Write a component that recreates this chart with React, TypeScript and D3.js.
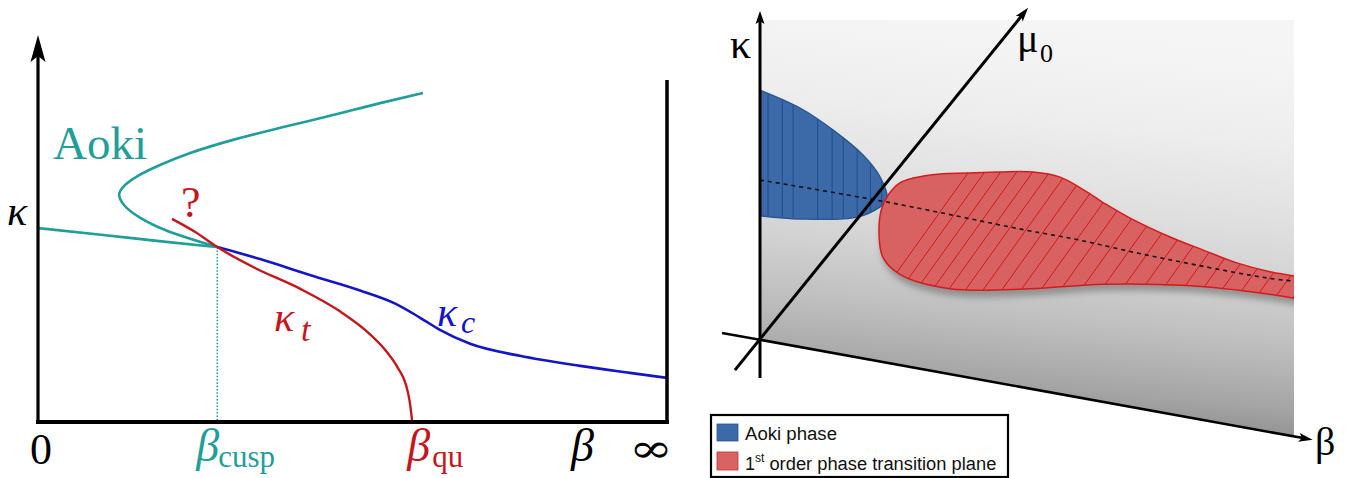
import React from 'react';
import * as d3 from 'd3';

const W = 1351;
const H = 478;

type P = [number, number];

// ---------- Left panel: schematic phase diagram in (beta, kappa) units ----------
const aokiUpper: P[] = [
  [6.12, 8.5], [5.44, 8.24], [4.69, 7.93], [3.9, 7.62], [3.1, 7.29], [2.42, 6.95],
  [1.94, 6.64], [1.59, 6.36], [1.37, 6.1], [1.29, 5.87], [1.37, 5.6], [1.62, 5.28],
  [2.05, 4.94], [2.85, 4.52],
];
const aokiLower: P[] = [[0, 5.01], [1.0, 4.84], [2.0, 4.66], [2.85, 4.52]];
const kappaT: P[] = [
  [2.13, 5.25], [2.5, 4.91], [2.85, 4.52], [3.45, 3.98], [4.17, 3.44], [4.8, 2.86],
  [5.2, 2.38], [5.52, 1.86], [5.72, 1.4], [5.85, 0.96], [5.91, 0.52], [5.95, 0],
];
const kappaC: P[] = [
  [2.85, 4.52], [3.53, 4.21], [4.32, 3.8], [5.12, 3.4], [5.68, 3.06], [6.07, 2.7],
  [6.39, 2.38], [6.87, 2.02], [7.66, 1.71], [8.62, 1.45], [9.41, 1.27], [10, 1.14],
];
const betaCusp = 2.85;
const kappaCusp = 4.52;
const betaQu = 5.95;
const rightWallTop = 8.84;

// ---------- Right panel: 3D sketch projected onto the (beta, kappa) plane ----------
const aokiPhase: P[] = [
  [0, 7.81], [0.75, 7.25], [1.37, 6.56], [1.93, 5.78], [2.25, 5.09], [2.38, 4.38],
  [2.25, 4.16], [1.82, 3.84], [0.75, 3.78], [0, 3.88],
];
const firstOrderPlane: P[] = [
  [2.4, 4.53], [2.62, 4.91], [2.87, 5.06], [3.37, 5.19], [3.88, 5.22], [4.49, 5.25],
  [5.11, 5.25], [5.62, 5.09], [6.12, 4.63], [6.5, 4.22], [6.93, 3.81], [7.68, 3.22],
  [8.3, 2.81], [8.93, 2.41], [9.55, 2.13], [10.0, 2.0], [10.4, 1.85], [10.6, 1.5],
  [10.4, 1.2], [10.0, 1.31], [9.23, 1.5], [8.0, 1.7], [6.42, 1.74], [5.06, 1.6],
  [3.56, 1.6], [2.62, 2.05], [2.3, 2.59], [2.23, 3.28], [2.27, 4.06],
];
const criticalLine: P[] = [
  [0, 5.0], [2.38, 4.31], [4.96, 3.44], [5.96, 3.13], [7.06, 2.72], [8.18, 2.34], [9.49, 1.94], [10, 1.84],
];
const aokiHatch = [0.15, 0.42, 0.62, 1.08, 1.35, 1.56, 1.82, 2.07, 2.28];
const planeHatch = [
  2.0, 2.3, 2.6, 2.9, 3.2, 3.52, 3.85, 4.2, 4.56, 4.93, 5.3, 5.68,
  6.06, 6.44, 6.82, 7.2, 7.58, 7.95, 8.32, 8.7, 9.06, 9.42, 9.76, 10.1,
];
const hatchDir: P = [2.1, 4.9];
const backPlane: P[] = [[0, 10], [10, 10], [10, -3.0], [0, 0]];
const kappaAxis: P[] = [[0, -1.19], [0, 10.28]];
const muAxis: P[] = [[-0.47, -0.94], [5.02, 10.38]];
const betaAxis: P[] = [[-0.71, 0.22], [10.35, -3.12]];
const legendItems = [
  { label: 'Aoki phase', fill: '#3c69a7', stroke: '#2a5590' },
  { label: ' order phase transition plane', fill: '#d96262', stroke: '#c43030' },
];

const teal = '#1f9e9a';
const red = '#c4161c';
const blue = '#1515c8';
const serif = "'Liberation Serif', 'DejaVu Serif', serif";
const sans = "'Liberation Sans', Arial, sans-serif";

const xL = d3.scaleLinear().domain([0, 10]).range([38, 667]);
const yL = d3.scaleLinear().domain([0, 10]).range([422, 35]);
const xR = d3.scaleLinear().domain([0, 10]).range([760, 1294]);
const yR = d3.scaleLinear().domain([0, 10]).range([340, 20]);

const lineLY = d3.line<P>().x(d => xL(d[0])).y(d => yL(d[1])).curve(d3.curveMonotoneY);
const lineLX = d3.line<P>().x(d => xL(d[0])).y(d => yL(d[1])).curve(d3.curveMonotoneX);
const lineLStraight = d3.line<P>().x(d => xL(d[0])).y(d => yL(d[1]));
const lineR = d3.line<P>().x(d => xR(d[0])).y(d => yR(d[1])).curve(d3.curveCatmullRom.alpha(0.5));
const lineRClosed = d3.line<P>().x(d => xR(d[0])).y(d => yR(d[1])).curve(d3.curveCatmullRomClosed.alpha(0.5));
const lineRStraight = d3.line<P>().x(d => xR(d[0])).y(d => yR(d[1]));

function arrowHead(x1: number, y1: number, x2: number, y2: number, len: number, half: number) {
  const a = Math.atan2(y2 - y1, x2 - x1);
  const c = Math.cos(a), s = Math.sin(a);
  const bx = x2 - len * c, by = y2 - len * s;
  const px = -s * half, py = c * half;
  const nx = bx + len * 0.22 * c, ny = by + len * 0.22 * s;
  return `M${x2},${y2}L${bx + px},${by + py}L${nx},${ny}L${bx - px},${by - py}Z`;
}

function axisWithArrow(pts: P[], sx: (v: number) => number, sy: (v: number) => number, len: number, half: number, width: number) {
  const x1 = sx(pts[0][0]), y1 = sy(pts[0][1]);
  const x2 = sx(pts[1][0]), y2 = sy(pts[1][1]);
  const a = Math.atan2(y2 - y1, x2 - x1);
  const ex = x2 - len * 0.7 * Math.cos(a), ey = y2 - len * 0.7 * Math.sin(a);
  return (
    <g>
      <line x1={x1} y1={y1} x2={ex} y2={ey} stroke="#000" strokeWidth={width} />
      <path d={arrowHead(x1, y1, x2, y2, len, half)} fill="#000" />
    </g>
  );
}

export default function App() {
  const aokiPath = (lineR(aokiPhase) || '') + 'Z';
  const planePath = lineRClosed(firstOrderPlane) || '';
  return (
    <svg width={W} height={H} viewBox={`0 0 ${W} ${H}`}
      style={{ position: 'absolute', left: 0, top: 0, background: '#fff' }}>
      <defs>
        <linearGradient id="bg" gradientUnits="userSpaceOnUse" x1={1040} y1={30} x2={1000} y2={445}>
          <stop offset="0" stopColor="#f5f5f5" />
          <stop offset="0.2" stopColor="#eeeeee" />
          <stop offset="0.4" stopColor="#e0e0e0" />
          <stop offset="0.55" stopColor="#d2d2d2" />
          <stop offset="0.7" stopColor="#bebebe" />
          <stop offset="0.85" stopColor="#a4a4a4" />
          <stop offset="1" stopColor="#7c7c7c" />
        </linearGradient>
        <clipPath id="planeClip"><rect x={xR(0)} y={0} width={xR(10) - xR(0)} height={H} /></clipPath>
        <clipPath id="aokiClip"><path d={aokiPath} /></clipPath>
        <clipPath id="redClip"><path d={planePath} /></clipPath>
        <filter id="blur" x="-10%" y="-10%" width="120%" height="140%">
          <feGaussianBlur stdDeviation="3" />
        </filter>
      </defs>

      {/* ---------------- LEFT PANEL ---------------- */}
      <g>
        <line x1={xL(betaCusp)} x2={xL(betaCusp)} y1={yL(kappaCusp)} y2={yL(0)}
          stroke={teal} strokeWidth={1.6} strokeDasharray="1.5 1.8" />
        <path d={lineLY(aokiUpper) || ''} fill="none" stroke={teal} strokeWidth={2.6} />
        <path d={lineLX(aokiLower) || ''} fill="none" stroke={teal} strokeWidth={2.6} />
        <path d={lineLX(kappaC) || ''} fill="none" stroke={blue} strokeWidth={2.6} />
        <path d={lineLX(kappaT) || ''} fill="none" stroke={red} strokeWidth={2.4} />
        <path d={lineLStraight([[10, rightWallTop], [10, 0]]) || ''} stroke="#000" strokeWidth={3.5} fill="none" />
        <path d={lineLStraight([[0, 0], [10, 0]]) || ''} stroke="#000" strokeWidth={4} fill="none" strokeLinecap="square" />
        {axisWithArrow([[0, 0], [0, 10]], xL, yL, 27, 7.5, 3.2)}

        <text x={53} y={159} fontFamily={serif} fontSize={47} fill={teal}>Aoki</text>
        <text x={7} y={225} fontFamily={serif} fontSize={42} fontStyle="italic" fill="#000">κ</text>
        <text x={181} y={217} fontFamily={serif} fontSize={44} fill={red}>?</text>
        <text x={274} y={331} fontFamily={serif} fontSize={42} fontStyle="italic" fill={red}>κ</text>
        <text x={301} y={341} fontFamily={serif} fontSize={34} fontStyle="italic" fill={red}>t</text>
        <text x={437} y={326} fontFamily={serif} fontSize={42} fontStyle="italic" fill={blue}>κ</text>
        <text x={461} y={333} fontFamily={serif} fontSize={32} fontStyle="italic" fill={blue}>c</text>

        <text x={xL(0) + 3} y={464} fontFamily={serif} fontSize={44} textAnchor="middle" fill="#000">0</text>
        <text x={xL(betaCusp) - 21} y={461} fontFamily={serif} fontSize={46} fontStyle="italic" fill={teal}>β</text>
        <text x={xL(betaCusp) + 1} y={467} fontFamily={serif} fontSize={31} fill={teal}>cusp</text>
        <text x={xL(betaQu) - 5} y={461} fontFamily={serif} fontSize={46} fontStyle="italic" fill={red}>β</text>
        <text x={xL(betaQu) + 20} y={467} fontFamily={serif} fontSize={31} fill={red}>qu</text>
        <text x={571} y={461} fontFamily={serif} fontSize={46} fontStyle="italic" fill="#000">β</text>
        <text x={629} y={462} fontFamily="'DejaVu Serif', serif" fontSize={40} fontWeight={300} fill="#000" textLength={44} lengthAdjust="spacingAndGlyphs">∞</text>
      </g>

      {/* ---------------- RIGHT PANEL ---------------- */}
      <g>
        <path d={(lineRStraight(backPlane) || '') + 'Z'} fill="url(#bg)" />

        <path d={aokiPath} fill="#3c69a7" />
        <g clipPath="url(#aokiClip)">
          {aokiHatch.map((b, i) => (
            <line key={i} x1={xR(b)} x2={xR(b)} y1={yR(2)} y2={yR(9)} stroke="#24508e" strokeWidth={1.1} />
          ))}
        </g>
        <path d={aokiPath} fill="none" stroke="#2a5590" strokeWidth={1.4} />

        <g clipPath="url(#planeClip)">
          <path d={planePath} fill="#6e6e6e" opacity={0.6} transform="translate(2,7)" filter="url(#blur)" />
          <path d={planePath} fill="#d86161" />
          <g clipPath="url(#redClip)">
            {planeHatch.map((b, i) => (
              <line key={i} x1={xR(b)} y1={yR(0.8)} x2={xR(b + hatchDir[0])} y2={yR(0.8 + hatchDir[1])}
                stroke="#d21a1a" strokeWidth={1} />
            ))}
          </g>
          <path d={planePath} fill="none" stroke="#d41c1c" strokeWidth={1.5} />
        </g>

        <path d={lineR(criticalLine) || ''} fill="none" stroke="#111" strokeWidth={1.6} strokeDasharray="4 4" />

        {axisWithArrow(kappaAxis, xR, yR, 13, 4.5, 3)}
        {axisWithArrow(muAxis, xR, yR, 14, 4.5, 3)}
        {axisWithArrow(betaAxis, xR, yR, 14, 4.5, 2.6)}

        <text x={730} y={58} fontFamily={serif} fontSize={42} fill="#000">κ</text>
        <text x={1017} y={52} fontFamily={serif} fontSize={40} fill="#000">μ</text>
        <text x={1040} y={62} fontFamily={serif} fontSize={26} fill="#000">0</text>
        <text x={1315} y={455} fontFamily={serif} fontSize={40} fill="#000">β</text>

        <rect x={711} y={415} width={297} height={62} fill="#fff" stroke="#000" strokeWidth={2.2} />
        <rect x={717} y={424} width={21} height={17} fill={legendItems[0].fill} stroke={legendItems[0].stroke} strokeWidth={0.8} />
        <rect x={717} y={452} width={21} height={18} fill={legendItems[1].fill} stroke={legendItems[1].stroke} strokeWidth={0.8} />
        <text x={745} y={440} fontFamily={sans} fontSize={18} fill="#111" textLength={92} lengthAdjust="spacingAndGlyphs">{legendItems[0].label}</text>
        <text x={745} y={470} fontFamily={sans} fontSize={18} fill="#111">
          1<tspan fontSize={12} dy={-8}>st</tspan><tspan dy={8} textLength={232} lengthAdjust="spacingAndGlyphs">{legendItems[1].label}</tspan>
        </text>
      </g>
    </svg>
  );
}
